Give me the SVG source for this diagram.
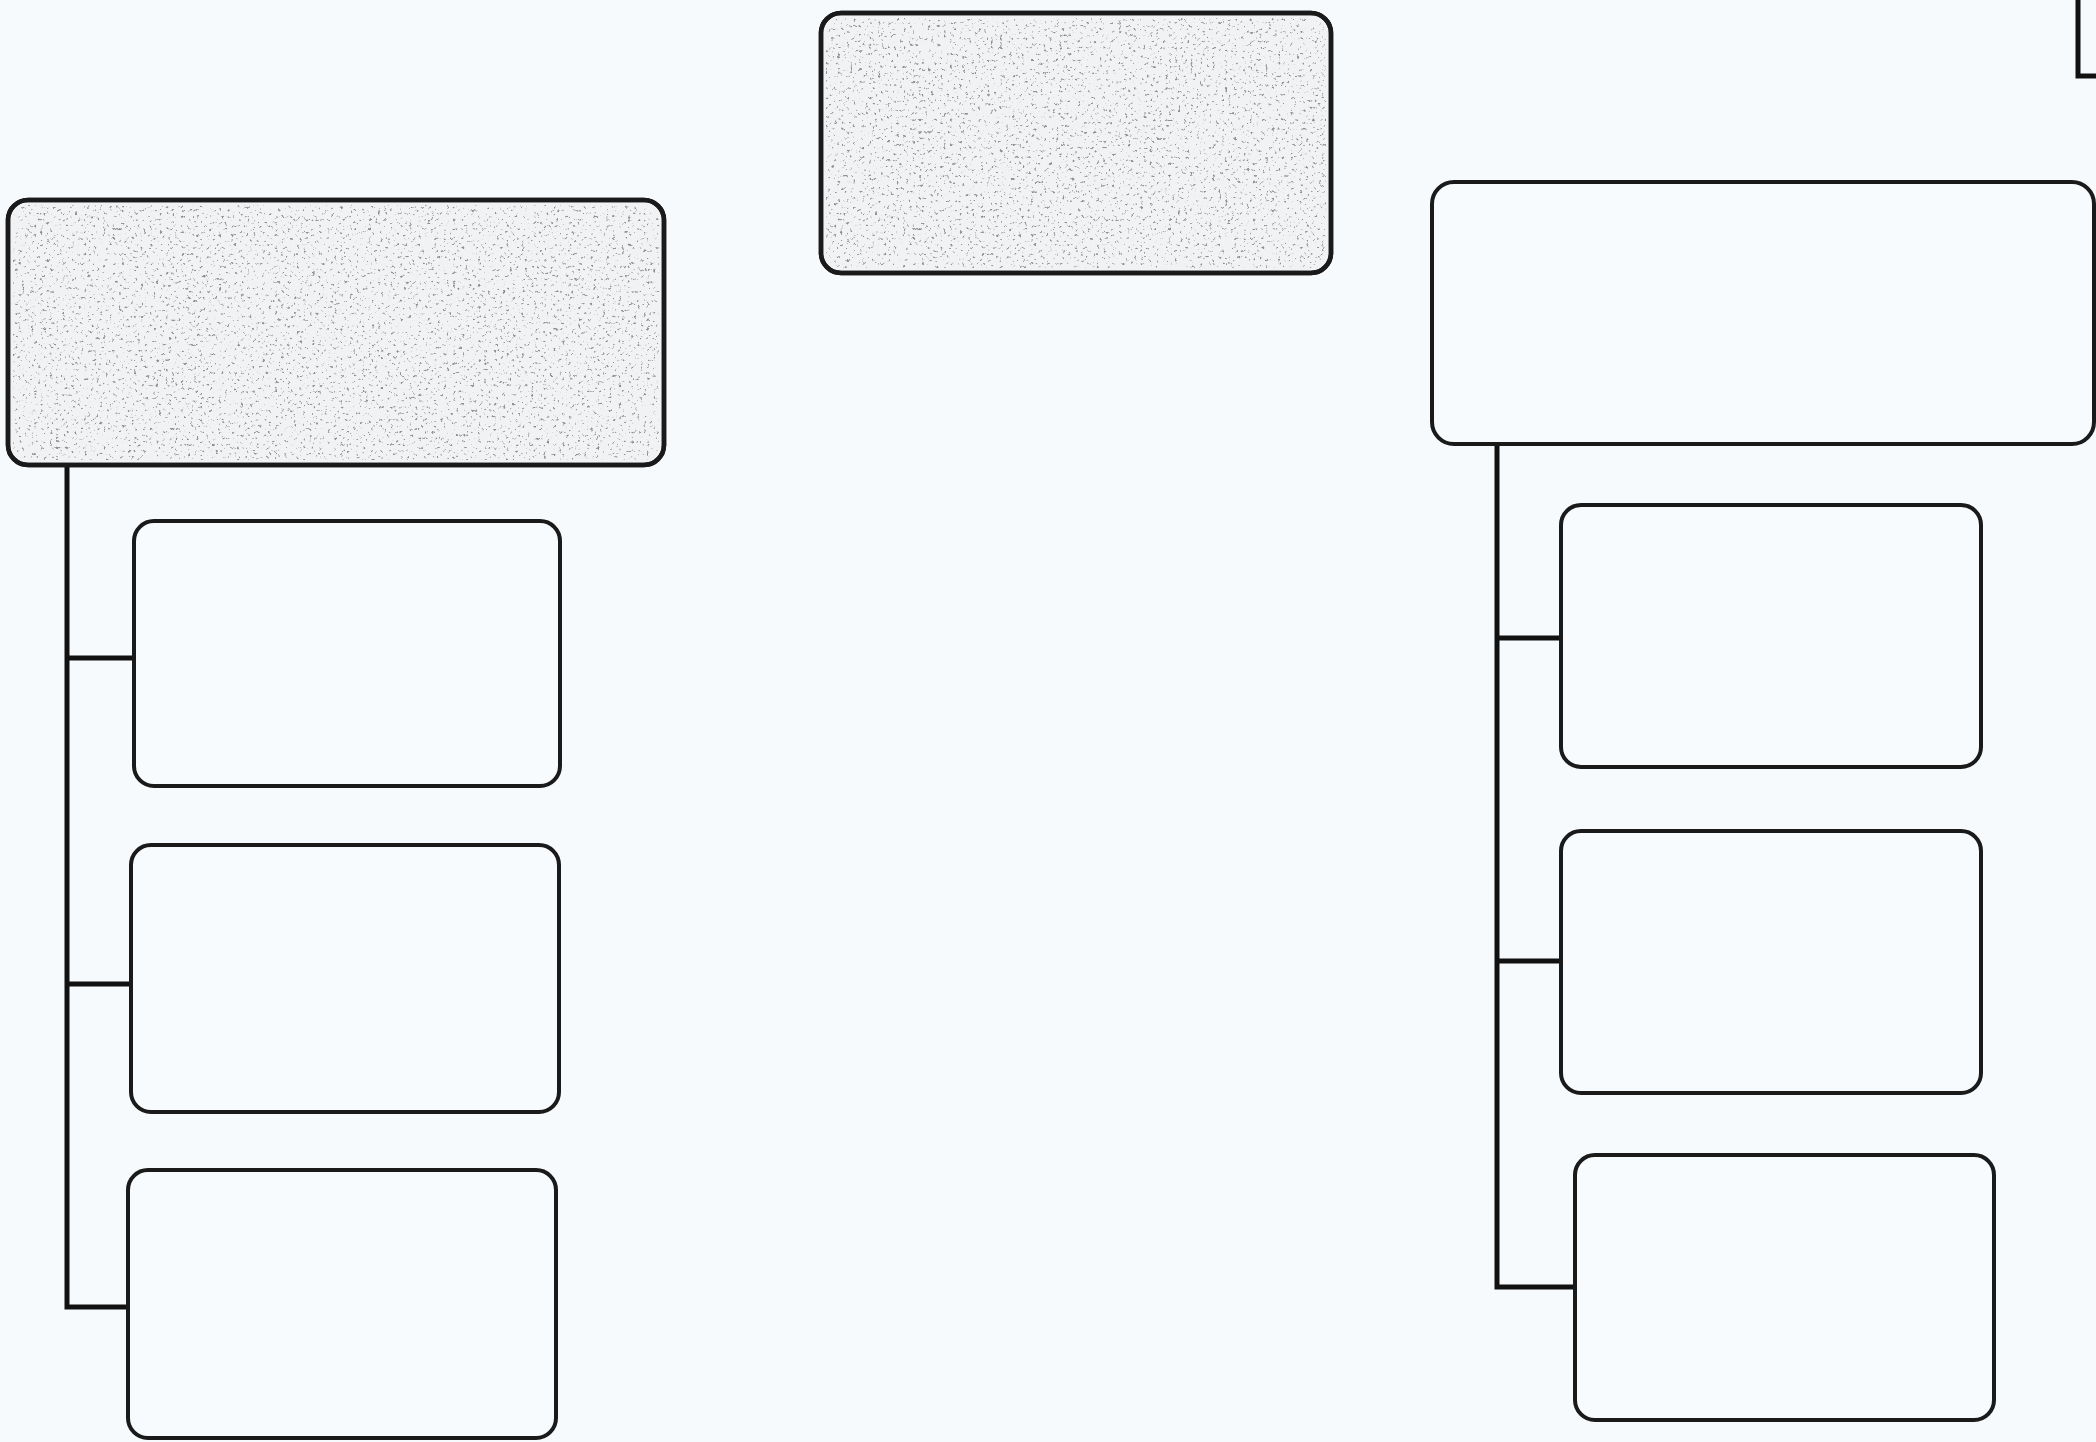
<svg xmlns="http://www.w3.org/2000/svg" width="2096" height="1442" viewBox="0 0 2096 1442">
<style>
.box{fill:#f8fbfd;stroke:#1a1a1a;stroke-width:4}
.shade{fill:#f1f2f3;stroke:#1a1a1a;stroke-width:4.5}
.edge{fill:none;stroke:#1a1a1a;stroke-width:4.5}
.conn{fill:none;stroke:#111;stroke-width:5;stroke-linejoin:miter}
</style>
<defs>
<filter id="speckle" x="0" y="0" width="100%" height="100%">
<feTurbulence type="fractalNoise" baseFrequency="0.32" numOctaves="3" seed="11" result="n"/>
<feColorMatrix in="n" type="matrix" values="0 0 0 0 0.28  0 0 0 0 0.28  0 0 0 0 0.3  -7 0 0 0 2.55" result="d"/>
<feComposite in="d" in2="SourceGraphic" operator="in"/>
</filter>
</defs>
<rect width="2096" height="1442" fill="#f7fafc"/>
<g id="connectors">
<path class="conn" d="M67 465 V1307 H130 M67 658 H134 M67 984 H131"/>
<path class="conn" d="M1497 444 V1287 H1575 M1497 638 H1561 M1497 961 H1561"/>
<path class="conn" d="M2078 0 V76 H2096"/>
</g>
<g id="top-center">
<rect class="shade" x="821" y="13" width="510" height="260" rx="20"/>
<rect x="826" y="18" width="500" height="250" rx="16" fill="#000" filter="url(#speckle)"/>
<rect class="edge" x="821" y="13" width="510" height="260" rx="20"/>
</g>
<g id="left-main">
<rect class="shade" x="8" y="200" width="656" height="265" rx="20"/>
<rect x="13" y="205" width="646" height="255" rx="16" fill="#000" filter="url(#speckle)"/>
<rect class="edge" x="8" y="200" width="656" height="265" rx="20"/>
</g>
<g id="left-1"><rect class="box" x="134" y="521" width="426" height="265" rx="20"/></g>
<g id="left-2"><rect class="box" x="131" y="845" width="428" height="267" rx="20"/></g>
<g id="left-3"><rect class="box" x="128" y="1170" width="428" height="268" rx="20"/></g>
<g id="right-main"><rect class="box" x="1432" y="182" width="662" height="262" rx="22"/></g>
<g id="right-1"><rect class="box" x="1561" y="505" width="420" height="262" rx="20"/></g>
<g id="right-2"><rect class="box" x="1561" y="831" width="420" height="262" rx="20"/></g>
<g id="right-3"><rect class="box" x="1575" y="1155" width="419" height="265" rx="20"/></g>
</svg>
